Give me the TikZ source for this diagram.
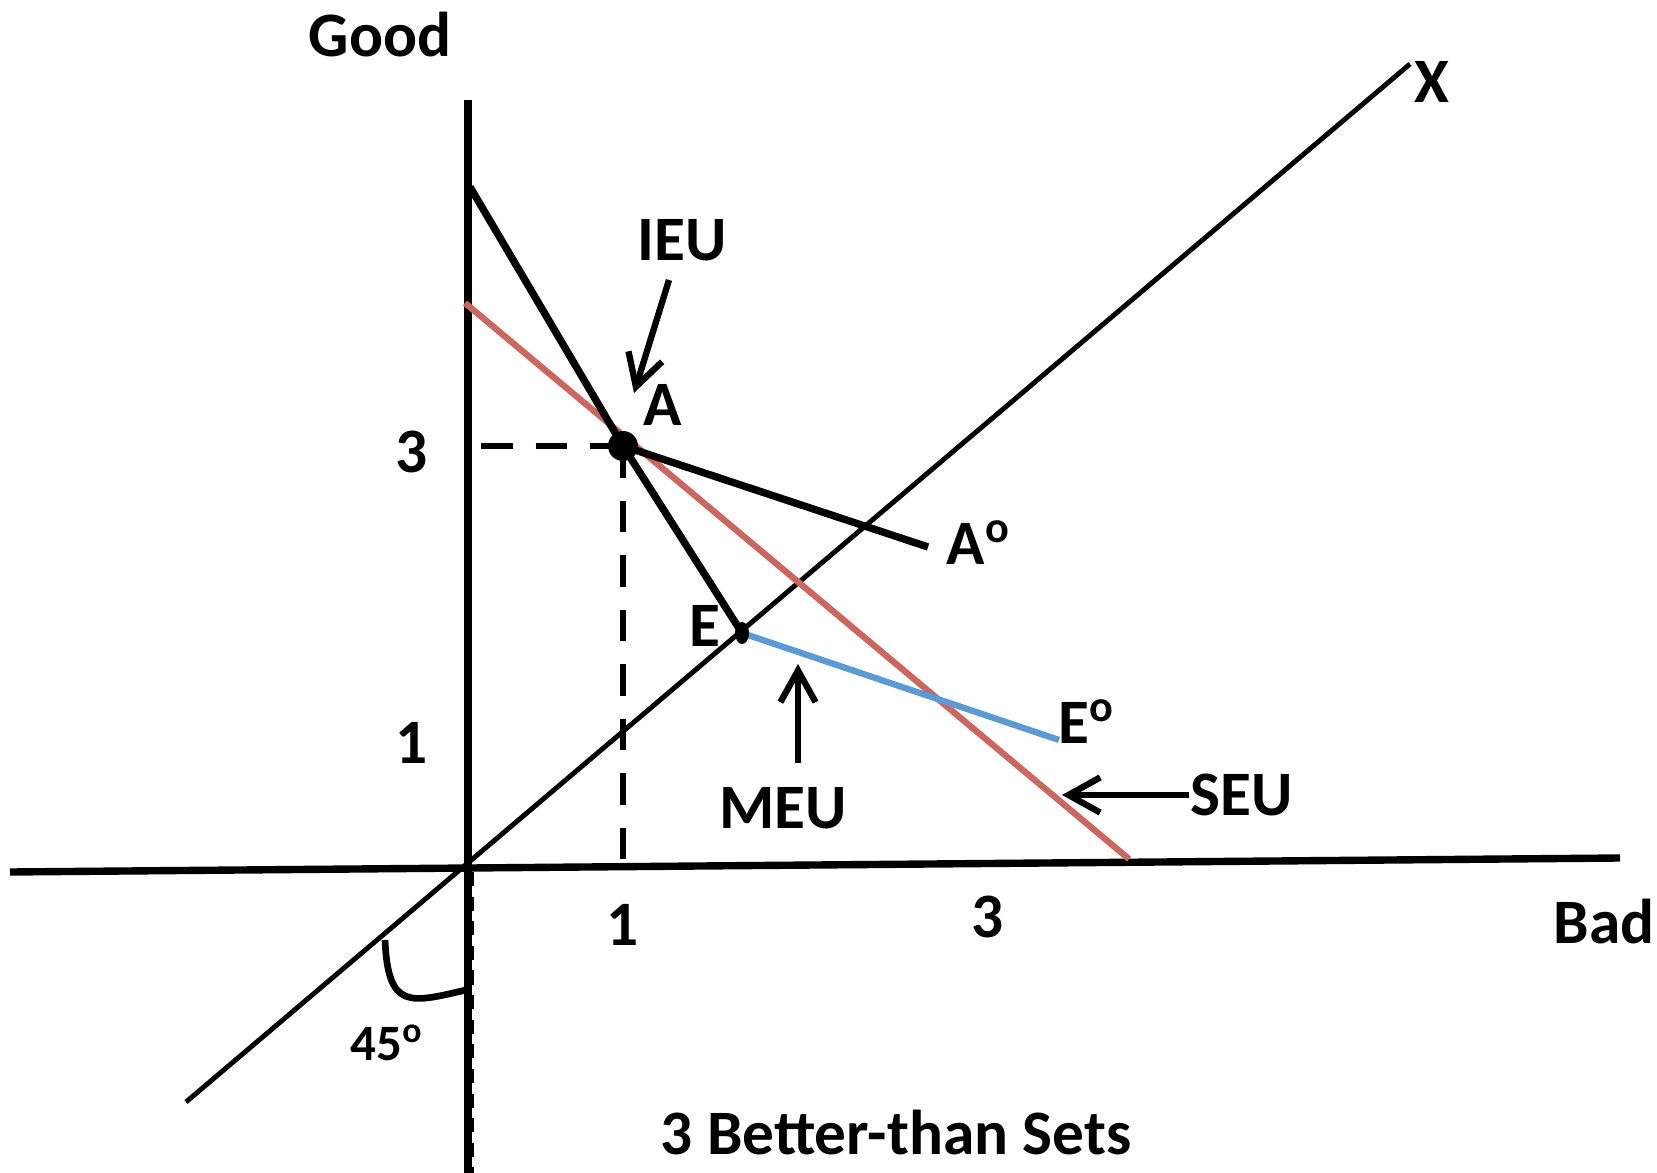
\documentclass[tikz,border=0pt]{standalone}
\usepackage{fontspec}
\setmainfont{Carlito}
\usetikzlibrary{arrows.meta}

\definecolor{seu}{HTML}{CC665E}
\definecolor{meu}{HTML}{5B9BD5}

\begin{document}
\begin{tikzpicture}[
  x=0.01cm, y=-0.01cm,
  line cap=butt, line join=round,
  every node/.style={font=\fontsize{18}{21}\selectfont\bfseries, inner sep=0pt},
  axis/.style={draw=black, line width=2.1pt},
  diag/.style={draw=black, line width=1.4pt},
  ieu/.style={draw=black, line width=2.1pt},
  seuline/.style={draw=seu, line width=1.8pt},
  meuline/.style={draw=meu, line width=1.8pt},
  guide/.style={draw=black, line width=1.8pt, dash pattern=on 9pt off 6.5pt},
  pointer/.style={draw=black, line width=1.8pt, -{Straight Barb[length=9pt, width=10pt, line width=1.8pt]}},
  small/.style={font=\fontsize{14.5}{17}\selectfont\bfseries},
]
\useasboundingbox (0,0) rectangle (1657,1173);

% points
\coordinate (O) at (468,866);
\coordinate (A) at (623,446);
\coordinate (E) at (742,633);
\coordinate (ieutop) at (470,187);
\coordinate (aoend) at (928,547);
\coordinate (eoend) at (1059,740);

% axes and 45 degree line
\draw[axis] (468,100) -- (468,1173);
\draw[axis] (10,872) -- (1620,858);
\draw[diag] (186,1102) -- (1410,64);
\draw[black, line width=0.9pt, dash pattern=on 4pt off 3pt] (472,872) -- (472,1173);

% dashed guides
\draw[guide] (481,446) -- (A);
\draw[guide] (A) -- (623,862);

% better-than sets
\draw[seuline] (465,303) -- (1129,859);
\draw[ieu] (ieutop) -- (A) -- (E);
\draw[ieu] (A) -- (aoend);
\draw[meuline] (E) -- (eoend);
\fill (A) circle (15);
\fill (E) ellipse (7 and 11);

% 45 degree marker
\draw[black, line width=1.9pt] (385,940) .. controls (388,1010) and (410,1003) .. (466,990);

% labels
\node (good) at (380,35) {Good};
\node (bad) at (1604,922) {Bad};
\node (xlab) at (1432,82) {X};
\node (y3) at (412,452) {3};
\node (y1) at (412,743) {1};
\node (x1) at (623,925) {1};
\node (x3) at (988,917) {3};
\node (alab) at (663,405) {A};
\node[anchor=west] (aolab) at (946,543) {A\textsuperscript{o}};
\node (elab) at (705,626) {E};
\node[anchor=west] (eolab) at (1058,722) {E\textsuperscript{o}};
\node (ieu) at (682,240) {IEU};
\node (meu) at (783,808) {MEU};
\node (seu) at (1242,795) {SEU};
\node[small] (angle) at (387,1043) {45\textsuperscript{o}};
\node (title) at (896,1133) {3 Better-than Sets};

% pointers
\coordinate (ieutail) at (669,280);
\coordinate (ieutip) at (634,393);
\coordinate (meutail) at (798,763);
\coordinate (meutip) at (798,664);
\coordinate (seutail) at (1189,795);
\coordinate (seutip) at (1062,795);
\draw[pointer] (ieutail) -- (ieutip);
\draw[pointer] (meutail) -- (meutip);
\draw[pointer] (seutail) -- (seutip);
\end{tikzpicture}
\end{document}
